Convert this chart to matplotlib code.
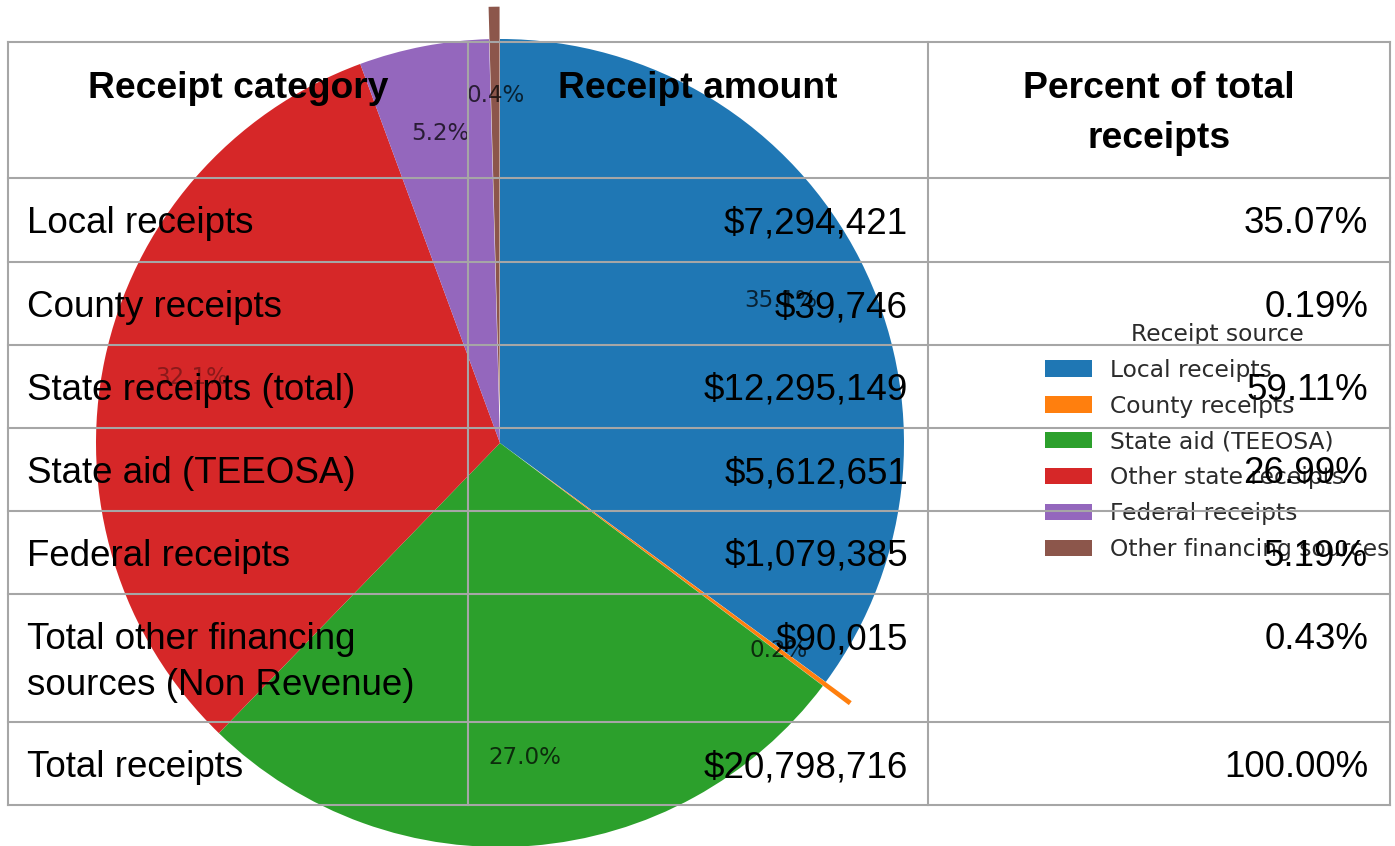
import matplotlib
matplotlib.use("Agg")
import matplotlib.pyplot as plt

# table contents
categories = ["Local receipts", "County receipts", "State receipts (total)",
              "State aid (TEEOSA)", "Federal receipts",
              "Total other financing\nsources (Non Revenue)", "Total receipts"]
amounts = [7294421, 39746, 12295149, 5612651, 1079385, 90015, 20798716]
percents = [35.07, 0.19, 59.11, 26.99, 5.19, 0.43, 100.00]
headers = ["Receipt category", "Receipt amount", "Percent of total\nreceipts"]

# pie contents
sources = ["Local receipts", "County receipts", "State aid (TEEOSA)",
           "Other state receipts", "Federal receipts", "Other financing sources"]
source_values = [7294421, 39746, 5612651, 6682498, 1079385, 90015]
explode = [0, 0.08, 0, 0, 0, 0.08]

W, H = 1395, 846
fig = plt.figure(figsize=(W / 100, H / 100), dpi=100)

# pie, centre at (500, 443) px, radius 404 px
cx, cy, r = 500, 443, 404
ax = fig.add_axes([0, 0, 1, 1])
wedges, texts, autotexts = ax.pie(source_values, explode=explode, startangle=90,
                                  counterclock=False, autopct="%1.1f%%",
                                  pctdistance=0.78,
                                  textprops={"fontsize": 16.6})
for t in autotexts:
    t.set_color("black")
    t.set_alpha(0.72)
autotexts[3].set_alpha(0.35)
ax.set_xlim(-cx / r, (W - cx) / r)
ax.set_ylim(-(H - cy) / r, cy / r)
ax.set_aspect("auto")
ax.axis("off")

leg = ax.legend(wedges, sources, title="Receipt source", loc="center left",
                bbox_to_anchor=(1024 / W, (H - 442) / H),
                bbox_transform=fig.transFigure, frameon=False,
                fontsize=16.8, title_fontsize=16.8, labelspacing=0.55,
                labelcolor="#2b2b2b")
leg.get_title().set_color("#2b2b2b")

# table overlay in pixel coordinates
tx = fig.add_axes([0, 0, 1, 1])
tx.set_xlim(0, W)
tx.set_ylim(H, 0)
tx.axis("off")
tx.patch.set_alpha(0)

col_edges = [8, 468, 928, 1390]
row_edges = [42, 178, 262, 345, 428, 511, 594, 722, 805]
line_kw = dict(color="#a6a6a6", lw=1.5)
for x in col_edges:
    tx.plot([x, x], [row_edges[0], row_edges[-1]], **line_kw)
for y in row_edges:
    tx.plot([col_edges[0], col_edges[-1]], [y, y], **line_kw)

font = ["Liberation Sans", "DejaVu Sans"]


def cell_text(s, x, top, ha, step=46, **kw):
    for i, line in enumerate(s.split("\n")):
        tx.text(x, top + 56 + i * step, line, ha=ha, va="baseline",
                family=font, color="black", **kw)


for j, h in enumerate(headers):
    mid = (col_edges[j] + col_edges[j + 1]) / 2
    cell_text(h, mid, row_edges[0], "center", step=50, fontsize=26.8, weight="bold")

for i, cat in enumerate(categories):
    top = row_edges[i + 1] - 1
    cell_text(cat, col_edges[0] + 19, top, "left", fontsize=26.5)
    cell_text(f"${amounts[i]:,}", col_edges[2] - 20, top, "right", fontsize=26.5)
    cell_text(f"{percents[i]:.2f}%", col_edges[3] - 22, top, "right", fontsize=26.5)

fig.savefig("out.png", dpi=100)
